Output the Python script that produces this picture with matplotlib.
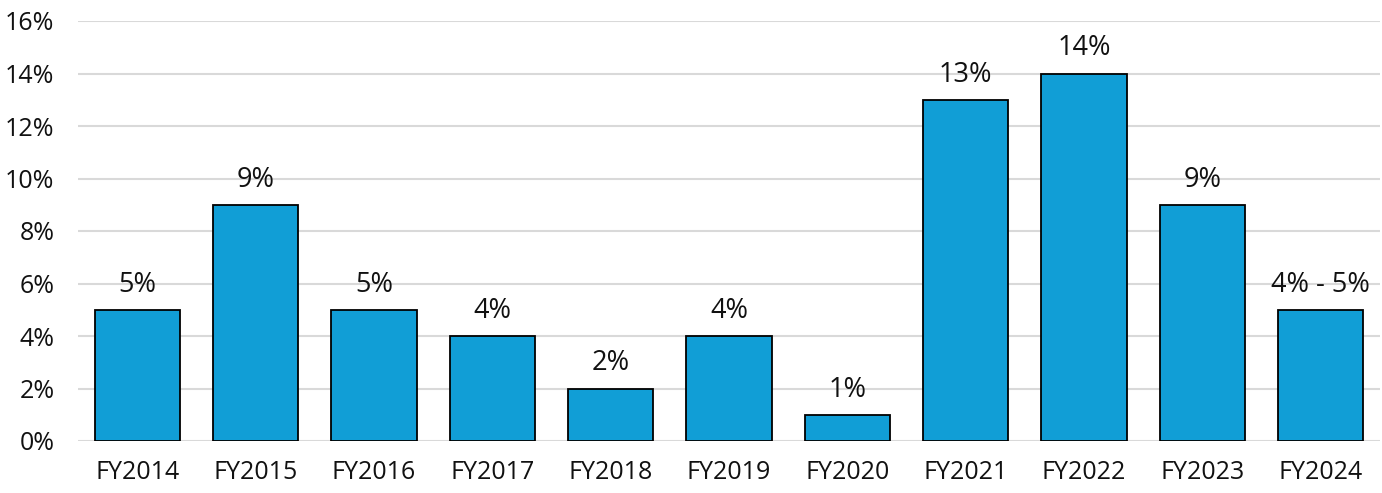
import matplotlib
matplotlib.use("Agg")
import matplotlib.pyplot as plt
from matplotlib.ticker import FuncFormatter

years  = ["FY2014", "FY2015", "FY2016", "FY2017", "FY2018", "FY2019",
          "FY2020", "FY2021", "FY2022", "FY2023", "FY2024"]
growth = [5, 9, 5, 4, 2, 4, 1, 13, 14, 9, 5]
labels = ["5%", "9%", "5%", "4%", "2%", "4%", "1%", "13%", "14%", "9%", "4% - 5%"]
yticks = [0, 2, 4, 6, 8, 10, 12, 14, 16]

plt.rcParams["font.family"] = ["Open Sans", "DejaVu Sans"]

fig = plt.figure(figsize=(13.82, 4.93), dpi=100)
ax = fig.add_axes([78/1382, 1 - 441/493, 1302/1382, 420/493])

x = range(len(years))
bars = ax.bar(x, growth, width=0.72, color="#119ed6", edgecolor="black",
              linewidth=1.3, zorder=3)

for b, lab in zip(bars, labels):
    ax.annotate(lab, (b.get_x() + b.get_width()/2, b.get_height()),
                xytext=(0, 13), textcoords="offset points",
                ha="center", va="baseline", fontsize=19.5, color="#111111")

ax.set_xlim(-0.5, len(years) - 0.5)
ax.set_ylim(0, 16)
ax.set_yticks(yticks)
ax.yaxis.set_major_formatter(FuncFormatter(lambda v, p: f"{v:.0f}%"))
ax.set_xticks(list(x))
ax.set_xticklabels(years)
ax.grid(axis="y", color="#d9d9d9", linewidth=1.5, zorder=0)
for s in ax.spines.values():
    s.set_visible(False)
ax.tick_params(axis="both", length=0, labelsize=18, colors="#111111")
ax.tick_params(axis="y", pad=17)
ax.tick_params(axis="x", pad=14)

fig.savefig("out.png", dpi=100)
